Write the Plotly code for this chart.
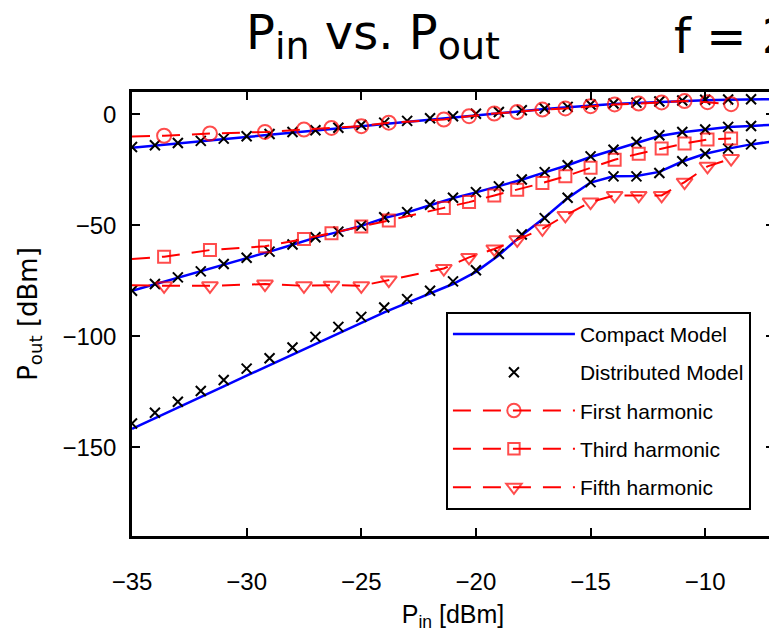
import plotly.graph_objects as go

# ---------------- data ----------------
pin_model = list(range(-35, -6))   # compact model sweep, -35 .. -7 dBm
pin_dist = list(range(-35, -7))    # distributed model sweep, -35 .. -8 dBm
pin_harm = [-35, -33.6, -31.6, -29.2, -27.5, -26.3, -25.0, -23.8, -21.4, -20.3, -19.2,
            -18.2, -17.1, -16.1, -15.0, -13.95, -12.9, -11.9, -10.9, -9.9, -8.87]

compact_fund = [-15.1, -14.2, -13.3, -12.3, -11.3, -10.3, -9.3, -8.4, -7.5, -6.5, -5.4,
                -4.4, -3.4, -2.4, -1.4, -0.4, 0.6, 1.5, 2.3, 3.1, 4.0, 4.6, 5.1, 5.6,
                6.0, 6.3, 6.5, 6.7, 6.8]
dist_fund = [-14.8, -14.0, -13.0, -12.0, -11.0, -9.9, -8.9, -8.0, -7.2, -6.1, -4.9,
             -3.8, -3.0, -1.8, -0.9, 0.2, 1.0, 1.8, 2.6, 3.3, 4.4, 4.8, 5.2, 5.7,
             6.2, 6.5, 6.6, 6.7]

compact_h3 = [-79.6, -76.7, -73.7, -70.8, -67.7, -64.8, -61.9, -58.8, -55.6, -53.0, -50.3,
              -46.8, -44.2, -41.0, -37.8, -35.2, -32.5, -29.5, -26.2, -23.0, -19.3, -16.1,
              -12.8, -9.8, -8.1, -6.9, -5.8, -5.3, -4.7]
dist_h3 = [-79.5, -76.5, -73.5, -70.8, -67.5, -64.7, -61.9, -58.7, -55.4, -52.9, -50.2,
           -46.4, -44.1, -40.8, -37.6, -35.1, -32.5, -29.4, -26.1, -23.0, -19.0, -16.0,
           -12.5, -9.5, -8.0, -6.9, -5.7, -5.3]

compact_h5 = [-141.7, -137.0, -132.2, -127.4, -122.6, -117.8, -113.0, -108.2, -103.4, -98.6,
              -93.8, -89.3, -85.0, -80.8, -76.5, -71.0, -63.5, -54.5, -46.5, -37.8,
              -30.8, -28.0, -27.8, -26.0, -21.3, -17.8, -15.5, -13.6, -12.2]
dist_h5 = [-139.3, -134.5, -129.5, -124.7, -119.7, -114.6, -109.9, -105.1, -100.3, -95.8,
           -91.3, -87.1, -83.3, -79.5, -75.3, -70.3, -62.9, -54.2, -46.8, -37.6,
           -30.6, -28.0, -28.0, -26.5, -21.2, -17.8, -15.5, -13.6]

first_harm = [-10.1, -9.7, -8.7, -8.0, -6.9, -6.2, -5.4, -3.8, -2.4, -0.9, 0.3,
              1.0, 2.1, 2.6, 3.6, 4.4, 4.8, 5.3, 5.9, 5.4, 4.5]
third_harm = [-65.2, -64.2, -61.2, -59.5, -56.2, -53.6, -50.6, -47.9, -42.2, -39.6, -36.6,
              -34.0, -31.0, -28.0, -24.1, -20.5, -17.8, -15.5, -13.2, -11.4, -11.0]
fifth_harm = [-77.0, -77.3, -77.3, -76.5, -77.3, -77.0, -77.3, -74.7, -69.5, -64.5, -60.7,
              -56.6, -51.6, -45.6, -39.6, -36.6, -36.6, -36.6, -30.6, -23.5, -20.0]

x_ticks = [-35, -30, -25, -20, -15, -10]
y_ticks = [0, -50, -100, -150]

# ---------------- styles ----------------
BLUE = "#0000ff"
RED = "#ff0000"
SANS = "Liberation Sans, Arial, sans-serif"
DEJAVU = "DejaVu Sans, sans-serif"

fig = go.Figure()

for i, ys in enumerate([compact_fund, compact_h3, compact_h5]):
    fig.add_trace(go.Scatter(x=pin_model, y=ys, mode="lines", name="Compact Model",
                             line=dict(color=BLUE, width=2.5), legendgroup="c",
                             showlegend=(i == 0)))

for i, ys in enumerate([dist_fund, dist_h3, dist_h5]):
    fig.add_trace(go.Scatter(x=pin_dist, y=ys, mode="markers", name="Distributed Model",
                             marker=dict(symbol="x-thin-open", size=10, color="black",
                                         line=dict(color="black", width=2)),
                             legendgroup="d", showlegend=(i == 0)))

sizes_circle = [0] + [14] * (len(pin_harm) - 1)
sizes_square = [0] + [12] * (len(pin_harm) - 1)
sizes_tri = [0] + [14] * (len(pin_harm) - 1)
for ys, name, sym, sz in [(first_harm, "First harmonic", "circle-open", sizes_circle),
                          (third_harm, "Third harmonic", "square-open", sizes_square),
                          (fifth_harm, "Fifth harmonic", "triangle-down-open", sizes_tri)]:
    fig.add_trace(go.Scatter(x=pin_harm, y=ys, mode="lines+markers", name=name,
                             line=dict(color=RED, width=2, dash="18px,12px"),
                             marker=dict(symbol=sym, size=sz, color=RED,
                                         line=dict(color=RED, width=2)),
                             legendgroup=name))

axis_common = dict(showline=True, linecolor="black", linewidth=2.5, mirror="ticks",
                   ticks="inside", ticklen=8, tickwidth=1.5, tickcolor="black",
                   showgrid=False, zeroline=False, automargin=False,
                   tickfont=dict(family=SANS, size=24, color="black"))

# the page body adds an 8 px offset; the figure is sized so the plot box lands at
# x 132..774, y 92..536 of the 777x643 window without causing page scrolling
fig.update_layout(
    width=769, height=627,
    margin=dict(l=124, r=3, t=84, b=99),
    paper_bgcolor="white", plot_bgcolor="white",
    xaxis=dict(range=[-35, -7], tickvals=x_ticks, ticklabelstandoff=22,
               title=dict(text="P<sub>in</sub> [dBm]", standoff=12,
                          font=dict(family=SANS, size=25, color="black")),
               **axis_common),
    yaxis=dict(range=[-190, 10], tickvals=y_ticks, ticklabelstandoff=8,
               title=dict(text="P<sub>out</sub> [dBm]", standoff=18,
                          font=dict(family=DEJAVU, size=26, color="black")),
               **axis_common),
    legend=dict(x=0.489, y=0.505, xanchor="left", yanchor="top",
                bgcolor="white", bordercolor="black", borderwidth=2,
                font=dict(family=SANS, size=21, color="black"),
                itemwidth=122, tracegroupgap=8),
    showlegend=True,
    annotations=[
        dict(text="P<sub><span style='font-size:38px'>in</span></sub> vs. "
                  "P<sub><span style='font-size:38px'>out</span></sub>",
             xref="paper", yref="paper",
             x=0.375, y=1.127, xanchor="center", yanchor="middle", showarrow=False,
             font=dict(family=DEJAVU, size=48, color="black")),
        dict(text="f = 2", xref="paper", yref="paper",
             x=0.841, y=1.127, xanchor="left", yanchor="middle", showarrow=False,
             font=dict(family=DEJAVU, size=48, color="black")),
    ],
)

fig.write_html("out.html")
